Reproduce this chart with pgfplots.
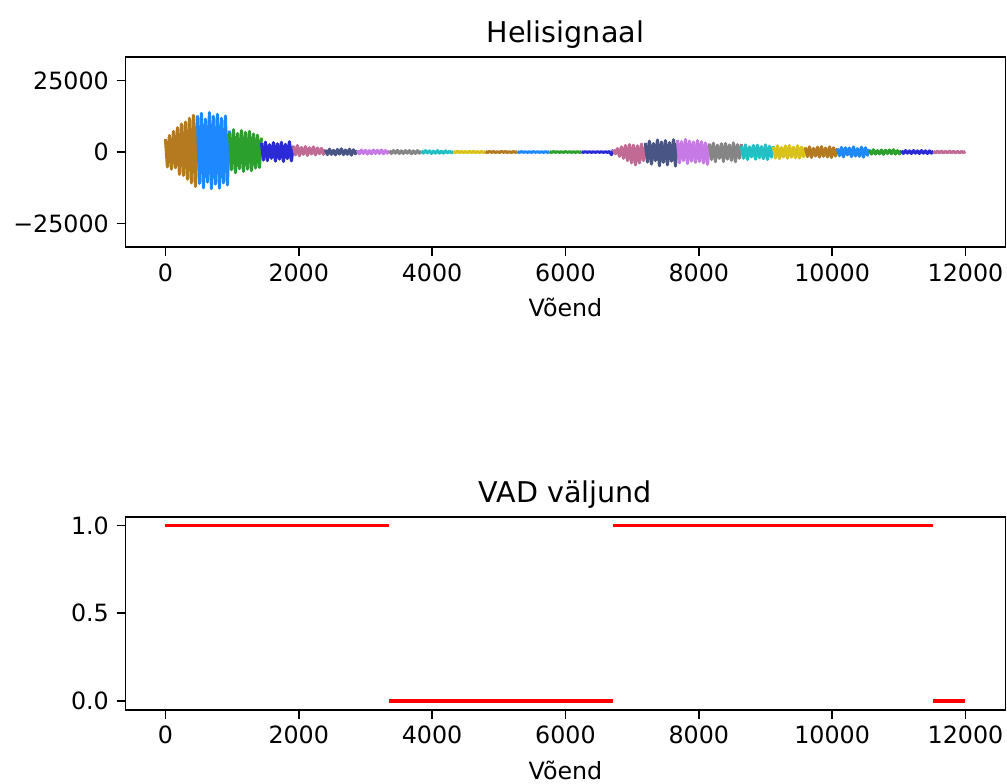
\documentclass[border=0pt]{standalone}
\usepackage{fontspec}
\setmainfont{DejaVu Sans}
\usepackage{pgfplots}
\pgfplotsset{compat=1.18}
\definecolor{cBrown}{HTML}{B5791F}
\definecolor{cBlue}{HTML}{1E88FF}
\definecolor{cGreen}{HTML}{2CA02C}
\definecolor{cDark}{HTML}{2A2AD8}
\definecolor{cPink}{HTML}{C06A94}
\definecolor{cSlate}{HTML}{485585}
\definecolor{cViolet}{HTML}{C77AE6}
\definecolor{cGray}{HTML}{858585}
\definecolor{cCyan}{HTML}{22BFC5}
\definecolor{cYellow}{HTML}{D9C21A}
\pgfplotsset{
  common/.style={
    scale only axis, width=400pt,
    xmin=-600, xmax=12600,
    xtick={0,2000,4000,6000,8000,10000,12000},
    scaled x ticks=false, scaled y ticks=false,
    /pgf/number format/1000 sep={},
    /pgf/number format/assume math mode=true,
    tick align=outside, xtick pos=left, ytick pos=left,
    major tick length=4pt,
    tick style={black, line width=0.8pt},
    axis line style={line width=0.8pt},
    ticklabel style={font=\fontsize{10.8}{13}\selectfont},
    xlabel={Võend},
    xlabel style={at={(axis description cs:0.5,0)}, anchor=base, yshift=-31.6pt, font=\fontsize{10.8}{13}\selectfont},
    title style={at={(axis description cs:0.5,1)}, anchor=base, yshift=0.6pt, font=\fontsize{13}{15}\selectfont},
  },
  wave/.style={line width=1.4pt, line join=round, mark=none},
}
\begin{document}
\begin{tikzpicture}
\begin{axis}[common, at={(0,0)}, anchor=north west, height=86.4pt,
  ymin=-33200, ymax=33200,
  ytick={-25000,0,25000}, yticklabels={−25000,0,25000},
  title={Helisignaal}]
\addplot[wave, cBrown] coordinates {(0,4500)(30,-5200)(60,5800)(90,-6000)(120,7200)(150,-5500)(180,8500)(210,-7800)(240,9800)(270,-8200)(300,10500)(330,-9500)(360,11800)(390,-10800)(420,12800)(450,-12000)(480,11500)};
\addplot[wave, cBlue] coordinates {(480,12800)(510,-11000)(540,13500)(570,-12500)(600,11500)(630,-10500)(660,13800)(690,-12800)(720,12500)(750,-11200)(780,13200)(810,-12600)(840,11800)(870,-10800)(900,12600)(930,-11500)(960,7500)};
\addplot[wave, cGreen] coordinates {(960,6800)(990,-6200)(1020,7800)(1050,-7200)(1080,6500)(1110,-5800)(1140,7500)(1170,-6800)(1200,6900)(1230,-6000)(1260,7200)(1290,-6500)(1320,6300)(1350,-5600)(1380,5900)(1410,-5400)(1440,5000)};
\addplot[wave, cDark] coordinates {(1440,3200)(1470,-2800)(1500,3500)(1530,-3000)(1560,2600)(1590,-2200)(1620,3300)(1650,-3200)(1680,2900)(1710,-2500)(1740,3400)(1770,-3300)(1800,2700)(1830,-2300)(1860,3600)(1890,-3100)(1920,2200)};
\addplot[wave, cPink] coordinates {(1920,2000)(1950,-1000)(1980,2300)(2010,-1300)(2040,1600)(2070,-800)(2100,1900)(2130,-1200)(2160,1500)(2190,-700)(2220,1800)(2250,-1000)(2280,1400)(2310,-600)(2340,1300)(2370,-800)(2400,900)};
\addplot[wave, cSlate] coordinates {(2400,700)(2430,-900)(2460,1000)(2490,-800)(2520,600)(2550,-1000)(2580,900)(2610,-700)(2640,1100)(2670,-900)(2700,700)(2730,-800)(2760,1000)(2790,-1100)(2820,800)(2850,-600)(2880,500)};
\addplot[wave, cViolet] coordinates {(2880,500)(2910,-600)(2940,700)(2970,-500)(3000,600)(3030,-700)(3060,500)(3090,-600)(3120,700)(3150,-500)(3180,600)(3210,-500)(3240,700)(3270,-600)(3300,500)(3330,-400)(3360,400)};
\addplot[wave, cGray] coordinates {(3360,400)(3390,-500)(3420,500)(3450,-400)(3480,600)(3510,-500)(3540,400)(3570,-500)(3600,500)(3630,-400)(3660,500)(3690,-600)(3720,400)(3750,-500)(3780,500)(3810,-400)(3840,300)};
\addplot[wave, cCyan] coordinates {(3840,400)(3870,-400)(3900,500)(3930,-300)(3960,400)(3990,-500)(4020,300)(4050,-400)(4080,500)(4110,-400)(4140,300)(4170,-400)(4200,400)(4230,-300)(4260,300)(4290,-300)(4320,200)};
\addplot[wave, cYellow] coordinates {(4320,200)(4350,-200)(4380,250)(4410,-150)(4440,200)(4470,-200)(4500,150)(4530,-200)(4560,250)(4590,-150)(4620,200)(4650,-200)(4680,150)(4710,-200)(4740,200)(4770,-150)(4800,150)};
\addplot[wave, cBrown] coordinates {(4800,150)(4830,-150)(4860,200)(4890,-100)(4920,150)(4950,-150)(4980,100)(5010,-150)(5040,200)(5070,-100)(5100,150)(5130,-150)(5160,100)(5190,-150)(5220,150)(5250,-100)(5280,100)};
\addplot[wave, cBlue] coordinates {(5280,100)(5310,-100)(5340,120)(5370,-80)(5400,100)(5430,-100)(5460,80)(5490,-100)(5520,120)(5550,-80)(5580,100)(5610,-100)(5640,80)(5670,-100)(5700,100)(5730,-80)(5760,80)};
\addplot[wave, cGreen] coordinates {(5760,100)(5790,-100)(5820,120)(5850,-80)(5880,100)(5910,-100)(5940,80)(5970,-100)(6000,120)(6030,-80)(6060,100)(6090,-100)(6120,80)(6150,-100)(6180,100)(6210,-80)(6240,80)};
\addplot[wave, cDark] coordinates {(6240,80)(6270,-80)(6300,100)(6330,-80)(6360,80)(6390,-100)(6420,80)(6450,-80)(6480,100)(6510,-80)(6540,80)(6570,-100)(6600,80)(6630,-100)(6660,150)(6690,-900)(6720,800)};
\addplot[wave, cPink] coordinates {(6720,800)(6750,-600)(6780,1200)(6810,-1500)(6840,1800)(6870,-2200)(6900,2300)(6930,-3000)(6960,2600)(6990,-3800)(7020,2400)(7050,-4500)(7080,2200)(7110,-3800)(7140,2800)(7170,-3000)(7200,2000)};
\addplot[wave, cSlate] coordinates {(7200,3200)(7230,-3500)(7260,3800)(7290,-4200)(7320,3000)(7350,-3000)(7380,4200)(7410,-4800)(7440,3500)(7470,-3600)(7500,4000)(7530,-4500)(7560,3300)(7590,-3200)(7620,4300)(7650,-4900)(7680,3800)};
\addplot[wave, cViolet] coordinates {(7680,4200)(7710,-3800)(7740,3600)(7770,-3000)(7800,4400)(7830,-4000)(7860,3800)(7890,-3200)(7920,3500)(7950,-3600)(7980,4000)(8010,-3300)(8040,3600)(8070,-3800)(8100,3200)(8130,-4300)(8160,3000)};
\addplot[wave, cGray] coordinates {(8160,2800)(8190,-2600)(8220,3100)(8250,-3400)(8280,2400)(8310,-2200)(8340,2900)(8370,-3300)(8400,3000)(8430,-2500)(8460,2500)(8490,-2900)(8520,3200)(8550,-3400)(8580,2600)(8610,-2200)(8640,2800)};
\addplot[wave, cCyan] coordinates {(8640,2000)(8670,-2200)(8700,2500)(8730,-2600)(8760,1800)(8790,-1700)(8820,2300)(8850,-2500)(8880,2400)(8910,-2000)(8940,1900)(8970,-2300)(9000,2500)(9030,-2600)(9060,2000)(9090,-1800)(9120,2100)};
\addplot[wave, cYellow] coordinates {(9120,1800)(9150,-2100)(9180,2200)(9210,-2300)(9240,1600)(9270,-1700)(9300,2100)(9330,-2200)(9360,2300)(9390,-1800)(9420,1700)(9450,-2000)(9480,2200)(9510,-2100)(9540,1700)(9570,-1600)(9600,1800)};
\addplot[wave, cBrown] coordinates {(9600,1500)(9630,-1600)(9660,1800)(9690,-1900)(9720,1300)(9750,-1400)(9780,1700)(9810,-1800)(9840,1900)(9870,-1500)(9900,1400)(9930,-1700)(9960,1800)(9990,-1900)(10020,1500)(10050,-1400)(10080,1300)};
\addplot[wave, cBlue] coordinates {(10080,1200)(10110,-1300)(10140,1600)(10170,-1700)(10200,1500)(10230,-1000)(10260,1400)(10290,-1600)(10320,1800)(10350,-1400)(10380,1200)(10410,-1500)(10440,1700)(10470,-1800)(10500,1500)(10530,-1100)(10560,1000)};
\addplot[wave, cGreen] coordinates {(10560,600)(10590,-700)(10620,800)(10650,-700)(10680,500)(10710,-600)(10740,700)(10770,-800)(10800,600)(10830,-500)(10860,700)(10890,-600)(10920,800)(10950,-700)(10980,500)(11010,-600)(11040,500)};
\addplot[wave, cDark] coordinates {(11040,400)(11070,-500)(11100,500)(11130,-400)(11160,400)(11190,-500)(11220,500)(11250,-400)(11280,400)(11310,-500)(11340,500)(11370,-400)(11400,400)(11430,-500)(11460,400)(11490,-400)(11520,300)};
\addplot[wave, cPink] coordinates {(11520,300)(11550,-300)(11580,300)(11610,-250)(11640,300)(11670,-300)(11700,250)(11730,-250)(11760,300)(11790,-250)(11820,250)(11850,-250)(11880,200)(11910,-250)(11940,200)(11970,-200)(12000,150)};
\end{axis}
\begin{axis}[common, at={(0,-209pt)}, anchor=north west, height=87.7pt,
  ymin=-0.05, ymax=1.05,
  ytick={0,0.5,1}, yticklabels={0.0,0.5,1.0},
  title={VAD väljund}]
\addplot[red, line width=1.5pt, mark=none] coordinates {(0,1)(3360,1)};
\addplot[red, line width=1.5pt, mark=none] coordinates {(3360,0)(6720,0)};
\addplot[red, line width=1.5pt, mark=none] coordinates {(6720,1)(11520,1)};
\addplot[red, line width=1.5pt, mark=none] coordinates {(11520,0)(12000,0)};
\end{axis}
\pgfresetboundingbox
\useasboundingbox (-57pt,25.9pt) rectangle (400.7pt,-330pt);
\end{tikzpicture}
\end{document}
